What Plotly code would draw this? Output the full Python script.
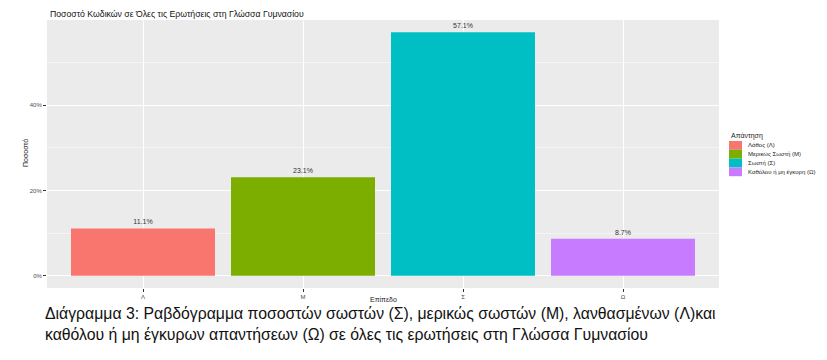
import plotly.graph_objects as go

categories = ["Λ", "Μ", "Σ", "Ω"]
legend_names = ["Λάθος (Λ)", "Μερικώς Σωστή (Μ)", "Σωστή (Σ)", "Καθόλου ή μη έγκυρη (Ω)"]
values = [11.1, 23.1, 57.1, 8.7]
colors = ["#F8766D", "#7CAE00", "#00BFC4", "#C77CFF"]

title = "Ποσοστό Κωδικών σε Όλες τις Ερωτήσεις στη Γλώσσα Γυμνασίου"
legend_title = "Απάντηση"
caption1 = "Διάγραμμα 3: Ραβδόγραμμα ποσοστών σωστών (Σ), μερικώς σωστών (Μ), λανθασμένων (Λ)και"
caption2 = "καθόλου ή μη έγκυρων απαντήσεων (Ω) σε όλες τις ερωτήσεις στη Γλώσσα Γυμνασίου"

# page body has an 8px margin: figure occupies window area from (8, 8)
OFF = 8
W, H = 827 - OFF, 360 - OFF
# plot panel in window pixel coords
L, R, T, B = 47, 719, 20, 288

def px(x):
    return (x - L) / (R - L)

def py(y):
    return (B - y) / (B - T)

fig = go.Figure()
for c, n, v, col in zip(categories, legend_names, values, colors):
    fig.add_trace(go.Bar(
        x=[c], y=[v], name=n, marker=dict(color=col, line=dict(width=0)),
        width=0.9, text=[f"{v:.1f}%"], textposition="outside",
        textfont=dict(size=7, color="#333333", family="Liberation Sans"),
        cliponaxis=False, showlegend=False,
    ))

# legend drawn as keys + labels (ggplot-style compact legend)
shapes = []
annotations = []
key_x0, key_x1 = 729, 742
key_top, key_h = 141, 8.8
annotations.append(dict(text=legend_title, x=px(729), y=py(136), xref="paper", yref="paper",
                        xanchor="left", yanchor="middle", showarrow=False,
                        font=dict(size=7, color="#222222", family="Liberation Sans")))
for i, (n, col) in enumerate(zip(legend_names, colors)):
    y0 = key_top + i * key_h
    y1 = y0 + key_h
    shapes.append(dict(type="rect", xref="paper", yref="paper",
                       x0=px(key_x0), x1=px(key_x1), y0=py(y1), y1=py(y0),
                       fillcolor=col, line=dict(width=0), layer="above"))
    annotations.append(dict(text=n, x=px(746), y=py((y0 + y1) / 2), xref="paper", yref="paper",
                            xanchor="left", yanchor="middle", showarrow=False,
                            font=dict(size=6, color="#222222", family="Liberation Sans")))

annotations += [
    dict(text=title, x=px(48), y=py(14), xref="paper", yref="paper",
         xanchor="left", yanchor="middle", showarrow=False,
         font=dict(size=8.7, color="#111111", family="Liberation Sans")),
    dict(text=caption1, x=px(43), y=py(313), xref="paper", yref="paper",
         xanchor="left", yanchor="middle", showarrow=False,
         font=dict(size=15.8, color="#111111", family="Liberation Sans")),
    dict(text=caption2, x=px(43), y=py(334), xref="paper", yref="paper",
         xanchor="left", yanchor="middle", showarrow=False,
         font=dict(size=15.8, color="#111111", family="Liberation Sans")),
    dict(text="Επίπεδο", x=0.5, y=py(299), xref="paper", yref="paper",
         xanchor="center", yanchor="middle", showarrow=False,
         font=dict(size=7, color="#222222", family="Liberation Sans")),
    dict(text="Ποσοστό", x=px(25), y=py(153), xref="paper", yref="paper",
         xanchor="center", yanchor="middle", showarrow=False, textangle=-90,
         font=dict(size=7, color="#222222", family="Liberation Sans")),
]

ymax = max(values)
fig.update_layout(
    width=W, height=H,
    margin=dict(l=L - OFF, r=W - (R - OFF), t=T - OFF, b=H - (B - OFF), autoexpand=False),
    paper_bgcolor="white", plot_bgcolor="#EBEBEB",
    barmode="overlay",
    font=dict(family="Liberation Sans", color="#4D4D4D"),
    showlegend=False,
    xaxis=dict(
        range=[-0.6, 3.6], showgrid=True, gridcolor="white", gridwidth=1,
        ticks="outside", ticklen=3, tickcolor="#333333",
        tickfont=dict(size=6, color="#4D4D4D"),
        zeroline=False, showline=False, automargin=False,
    ),
    yaxis=dict(
        range=[-0.05 * ymax, 1.05 * ymax],
        tickvals=[0, 20, 40], ticktext=["0%", "20%", "40%"],
        showgrid=True, gridcolor="white", gridwidth=1,
        minor=dict(tickvals=[10, 30, 50], showgrid=True, gridcolor="#F5F5F5", gridwidth=0.5, ticks=""),
        ticks="outside", ticklen=3, tickcolor="#333333",
        tickfont=dict(size=6, color="#4D4D4D"),
        zeroline=False, showline=False, automargin=False,
    ),
    shapes=shapes,
    annotations=annotations,
)

fig.write_html("out.html")
